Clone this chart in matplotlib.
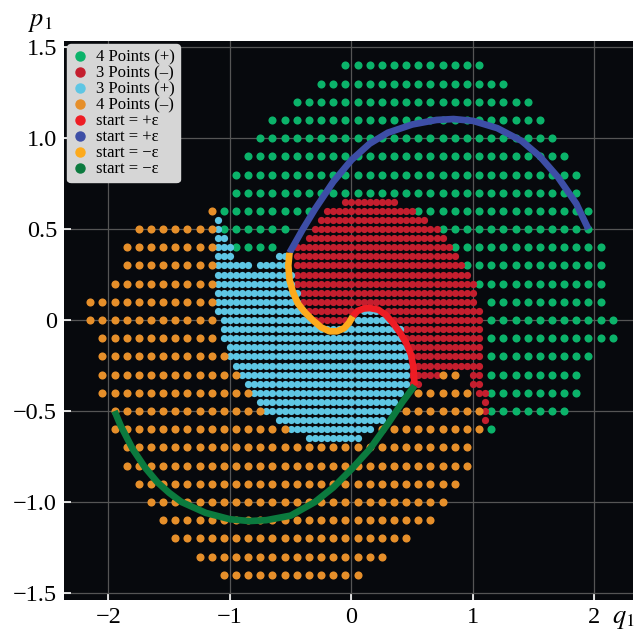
import numpy as np
import matplotlib.pyplot as plt
from matplotlib.lines import Line2D

plt.rcParams['font.family'] = ['Liberation Serif', 'DejaVu Serif']
plt.rcParams['mathtext.fontset'] = 'stix'

# coarse grid (step 0.1): rows as (p1, q1 from, q1 to)
green_rows = [
    (1.4, -0.05, 1.05), (1.3, -0.25, 1.25), (1.2, -0.45, 1.45), (1.1, -0.65, 1.55),
    (1.0, -0.75, 1.65), (0.9, -0.85, 1.75), (0.8, -0.95, 1.85), (0.7, -0.95, 1.85),
    (0.6, -1.05, -0.35), (0.6, 0.55, 1.95), (0.5, -1.05, -0.55), (0.5, 0.75, 1.95),
    (0.4, -0.95, -0.65), (0.4, 0.85, 2.05), (0.3, 0.95, 2.05), (0.2, 1.05, 2.05),
    (0.1, 1.15, 2.05), (0.0, 1.15, 2.15), (-0.1, 1.15, 2.15), (-0.2, 1.15, 1.95),
    (-0.3, 1.15, 1.85), (-0.4, 1.15, 1.85), (-0.5, 1.15, 1.75), (-0.6, 1.15, 1.15),
]
orange_rows = [
    (0.6, -1.15, -1.15), (0.5, -1.75, -1.15), (0.4, -1.85, -1.15), (0.3, -1.85, -1.15),
    (0.2, -1.95, -1.15), (0.1, -2.15, -1.15), (0.0, -2.15, -1.15), (-0.1, -2.05, -1.15),
    (-0.2, -2.05, -1.05), (-0.3, -2.05, -0.95), (-0.3, 0.75, 0.85),
    (-0.4, -2.05, -0.85), (-0.4, 0.55, 0.95), (-0.5, -1.95, -0.75), (-0.5, 0.45, 1.05),
    (-0.6, -1.95, -0.55), (-0.6, 0.25, 1.05), (-0.7, -1.85, 0.95), (-0.8, -1.85, 0.95),
    (-0.9, -1.75, 0.85), (-1.0, -1.65, 0.75), (-1.1, -1.55, 0.65), (-1.2, -1.45, 0.45),
    (-1.3, -1.25, 0.25), (-1.4, -1.05, 0.05),
]
# fine grid (step 0.05)
cyan_rows = [
    (0.55, -1.1, -1.1), (0.5, -1.1, -1.1), (0.45, -1.1, -1.05), (0.4, -1.1, -1.0),
    (0.35, -1.1, -1.0), (0.35, -0.6, -0.55), (0.3, -1.1, -0.85), (0.3, -0.75, -0.55),
    (0.25, -1.1, -0.5), (0.2, -1.1, -0.5), (0.15, -1.1, -0.45), (0.1, -1.1, -0.45),
    (0.05, -1.1, -0.4), (0.05, 0.1, 0.2), (0.0, -1.05, -0.35), (0.0, 0.05, 0.3),
    (-0.05, -1.05, 0.4), (-0.1, -1.05, 0.4), (-0.15, -1.0, 0.45), (-0.2, -1.0, 0.45),
    (-0.25, -0.95, 0.45), (-0.3, -0.9, 0.45), (-0.35, -0.85, 0.45), (-0.4, -0.8, 0.4),
    (-0.45, -0.75, 0.35), (-0.5, -0.7, 0.3), (-0.55, -0.6, 0.25), (-0.6, -0.5, 0.15),
    (-0.65, -0.35, 0.05),
]
red_rows = [
    (0.65, -0.05, 0.35), (0.6, -0.2, 0.5), (0.55, -0.25, 0.6), (0.5, -0.3, 0.7),
    (0.45, -0.35, 0.75), (0.4, -0.45, 0.8), (0.35, -0.45, 0.85), (0.3, -0.45, 0.9),
    (0.25, -0.45, 0.95), (0.2, -0.45, 1.0), (0.15, -0.4, 1.0), (0.1, -0.4, 1.0),
    (0.05, -0.35, 0.0), (0.05, 0.3, 1.05), (0.0, -0.3, -0.05), (0.0, 0.35, 1.05),
    (-0.05, 0.4, 1.05), (-0.1, 0.45, 1.05), (-0.15, 0.5, 1.05), (-0.2, 0.5, 1.05),
    (-0.25, 0.5, 1.05), (-0.3, 0.5, 0.7), (-0.3, 1.0, 1.05), (-0.35, 0.5, 0.55),
    (-0.35, 1.0, 1.05), (-0.4, 1.05, 1.1), (-0.45, 1.1, 1.1), (-0.5, 1.1, 1.1),
    (-0.55, 1.1, 1.1),
]

# trajectories
red_q = [0.01, 0.05, 0.1, 0.15, 0.22, 0.28, 0.34, 0.4, 0.45, 0.49, 0.51, 0.52]
red_p = [0.02, 0.05, 0.063, 0.066, 0.057, 0.03, -0.015, -0.07, -0.125, -0.19, -0.26, -0.36]
blue_q = [-0.51, -0.4, -0.3, -0.15, 0.0, 0.15, 0.3, 0.5, 0.7, 0.84, 1.0, 1.2, 1.4, 1.55, 1.7, 1.85, 1.95]
blue_p = [0.37, 0.5, 0.61, 0.76, 0.88, 0.97, 1.03, 1.075, 1.1, 1.105, 1.095, 1.055, 0.985, 0.9, 0.785, 0.64, 0.5]
orange_q = [-0.51, -0.52, -0.51, -0.48, -0.44, -0.38, -0.32, -0.25, -0.18, -0.12, -0.06, -0.02, 0.01]
orange_p = [0.37, 0.3, 0.22, 0.15, 0.09, 0.04, 0.0, -0.04, -0.062, -0.062, -0.045, -0.015, 0.02]
dgreen_q = [-1.95, -1.9, -1.8, -1.7, -1.6, -1.5, -1.4, -1.2, -1.0, -0.84, -0.7, -0.5, -0.3,
            -0.15, 0.0, 0.15, 0.3, 0.42, 0.52]
dgreen_p = [-0.5, -0.58, -0.71, -0.81, -0.89, -0.95, -1.0, -1.06, -1.095, -1.105, -1.1, -1.075,
            -1.0, -0.92, -0.82, -0.71, -0.57, -0.45, -0.36]

y_ticks = [-1.5, -1.0, -0.5, 0, 0.5, 1.0, 1.5]
y_labels = ['\u22121.5', '\u22121.0', '\u22120.5', '0', '0.5', '1.0', '1.5']
x_ticks = [-2, -1, 0, 1, 2]
x_labels = ['\u22122', '\u22121', '0', '1', '2']


def expand(rows, step):
    # spread each row range onto its grid points
    q, p = [], []
    for y, a, b in rows:
        n = int(round((b - a) / step)) + 1
        q += list(np.linspace(a, b, n))
        p += [y] * n
    return q, p


fig = plt.figure(figsize=(6.35, 6.31), dpi=100)
ax = fig.add_axes([64 / 635, 31 / 631, 569 / 635, 559 / 631])
ax.set_facecolor('#07090d')

series = [
    (green_rows, 0.1, '#0bb36a', 34, '4 Points (+)'),
    (red_rows, 0.05, '#c41e2e', 27, '3 Points (\u2013)'),
    (cyan_rows, 0.05, '#5ec6e4', 27, '3 Points (+)'),
    (orange_rows, 0.1, '#e68f2a', 34, '4 Points (\u2013)'),
]
handles = []
for rows, step, col, s, lab in series:
    q, p = expand(rows, step)
    ax.scatter(q, p, s=s, color=col, linewidths=0, zorder=2)
    handles.append(Line2D([], [], ls='none', marker='o', color=col, markersize=6.5, label=lab))

lines = [
    (red_q, red_p, '#ee1c24', 'start = +\u03b5'),
    (blue_q, blue_p, '#3d4ea6', 'start = +\u03b5'),
    (orange_q, orange_p, '#fdaa1c', 'start = \u2212\u03b5'),
    (dgreen_q, dgreen_p, '#0b7a3e', 'start = \u2212\u03b5'),
]
for q, p, col, lab in lines:
    ax.plot(q, p, color=col, lw=4.8, solid_capstyle='butt', solid_joinstyle='round', zorder=3)
    handles.append(Line2D([], [], ls='none', marker='o', color=col, markersize=6.5, label=lab))

ax.set_xlim(-2.366, 2.317)
ax.set_ylim(-1.539, 1.534)
ax.set_xticks(x_ticks)
ax.set_xticklabels(x_labels)
ax.set_yticks(y_ticks)
ax.set_yticklabels(y_labels)
ax.tick_params(direction='in', color='white', length=5, width=1.2, labelsize=17.5, pad=5)
ax.grid(True, color='#555555', lw=0.9)
ax.set_axisbelow(True)
for sp in ax.spines.values():
    sp.set_visible(False)

leg = ax.legend(handles=handles, loc='upper left', bbox_to_anchor=(0.006, 0.994),
                borderaxespad=0, fontsize=12, labelspacing=0.0, handlelength=0.9,
                handletextpad=0.5, borderpad=0.3, frameon=True, fancybox=True)
leg.get_frame().set_facecolor('#d6d6d6')
leg.get_frame().set_edgecolor('#d6d6d6')
leg.get_frame().set_alpha(1)

fig.text(28 / 635, 1 - 23 / 631, '$p_1$', fontsize=19, va='center', ha='left')
fig.text(612 / 635, 1 - 620 / 631, '$q_1$', fontsize=19, va='center', ha='left')

fig.savefig('out.png', dpi=100, facecolor='white')
